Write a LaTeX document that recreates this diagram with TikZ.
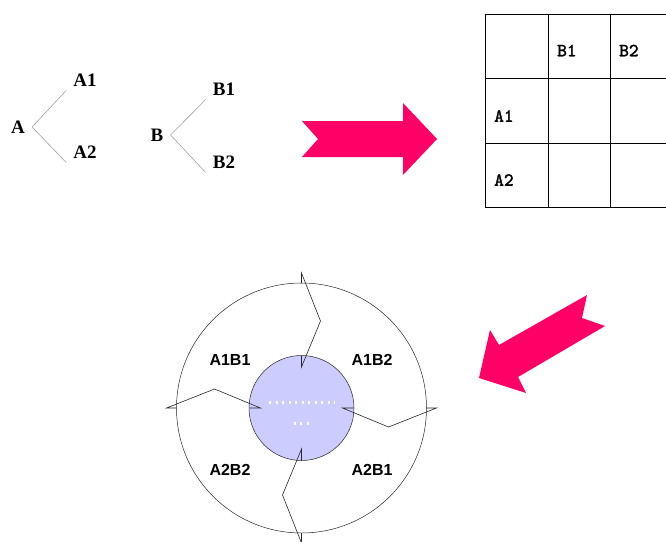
\documentclass[tikz,border=0pt]{standalone}
\usepackage{fontspec}
\setmainfont{Liberation Serif}
\newfontfamily\labelfont{Liberation Sans}
\newfontfamily\cellfont{lmmono10-regular.otf}[FakeBold=1.8]
\usepackage{xcolor}
\definecolor{hotpink}{RGB}{255,0,102}
\definecolor{lavender}{RGB}{204,204,255}
\tikzset{tree node/.style={font=\bfseries\fontsize{19}{22}\selectfont,
        inner xsep=7pt, inner ysep=4pt},
    branch/.style={draw=gray!75, line width=0.6pt},
    cell text/.style={font=\cellfont\bfseries\fontsize{18.5}{21}\selectfont,
        anchor=west, inner sep=0pt},
    grid line/.style={draw=black, line width=0.8pt},
    bigarrow/.style={fill=hotpink, draw=none},
    ring/.style={circle, draw=black!85, line width=0.5pt, inner sep=0pt},
    cycarrow/.style={draw=black!85, line width=0.6pt, line join=miter},
    quarter/.style={font=\labelfont\bfseries\fontsize{16}{19}\selectfont},
    hubdots/.style={draw=white, line width=2.5pt, dash pattern=on 2.3pt off 4.2pt}}

\begin{document}
\begin{tikzpicture}[x=1pt, y=-1pt]
\useasboundingbox (0,0) rectangle (666,541);
% trees
\node[tree node] (A) at (18,127) {A};
\node[tree node] (A1) at (85,80) {A1};
\node[tree node] (A2) at (85,152) {A2};
\draw[branch] (A.east) -- (A1.south west);
\draw[branch] (A.east) -- (A2.south west);
\node[tree node] (B) at (157,135) {B};
\node[tree node] (B1) at (224,89) {B1};
\node[tree node] (B2) at (224,162) {B2};
\draw[branch] (B.east) -- (B1.south west);
\draw[branch] (B.east) -- (B2.south west);

\fill[bigarrow] (302,121) -- (318,139) -- (302,157) -- (403,157) -- (403,175)
    -- (437,139) -- (403,103) -- (403,121) -- cycle;

% table
\foreach \y in {14,78,143,207}
    \draw[grid line] (485,\y) -- (666,\y);
\foreach \x in {485,548,610}
    \draw[grid line] (\x,14) -- (\x,207);
\node[cell text] (colB1) at (557,50.5) {B1};
\node[cell text] (colB2) at (619,50.5) {B2};
\node[cell text] (rowA1) at (494,116) {A1};
\node[cell text] (rowA2) at (494,180) {A2};

\fill[bigarrow] (479,378) -- (490,330) -- (499,345) -- (587,295) -- (582,318)
    -- (605,326) -- (518,377) -- (526,393) -- cycle;

% cycle
\node[ring, minimum size=250pt] (outer) at (301.5,408) {};
\node[ring, fill=lavender, minimum size=105pt] (hub) at (301.5,408) {};
\begin{scope}[shift={(hub.center)}]
\foreach \a in {0,90,180,270}
    \draw[cycarrow, rotate=\a] (0,-125) -- (0,-135) -- (19,-87) -- (0,-41) -- (0,-52);
\draw[hubdots] (-32.5,-5.3) -- (33.5,-5.3);
\draw[hubdots] (-8,15.3) -- (8.5,15.3);
\end{scope}
\node[quarter] (q11) at (230,360) {A1B1};
\node[quarter] (q12) at (372,360) {A1B2};
\node[quarter] (q22) at (230,470) {A2B2};
\node[quarter] (q21) at (372,470) {A2B1};
\end{tikzpicture}
\end{document}
